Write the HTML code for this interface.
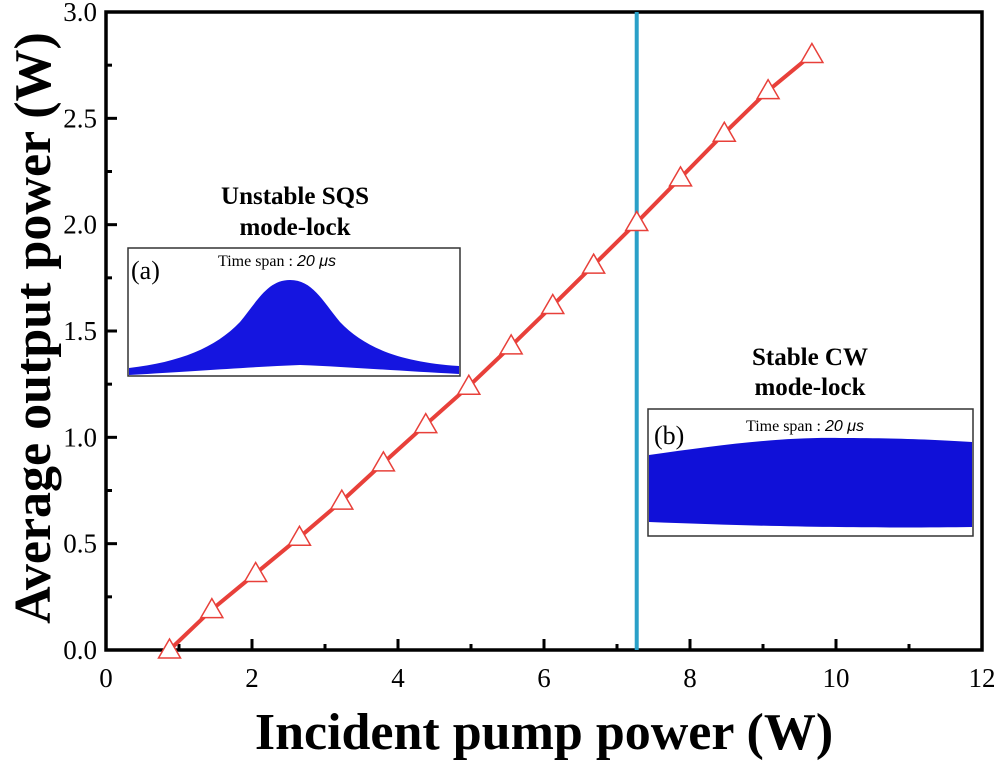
<!DOCTYPE html>
<html><head><meta charset="utf-8"><style>
body{margin:0;background:#fff;}
svg{display:block;font-family:"Liberation Serif",serif;}
</style></head><body>
<svg id="chart" width="996" height="761" viewBox="0 0 996 761">
<rect x="0" y="0" width="996" height="761" fill="#fff"/>
<g id="insets">
  <g>
    <text x="295" y="204" font-size="25" font-weight="bold" text-anchor="middle">Unstable SQS</text>
    <text x="295" y="235" font-size="25" font-weight="bold" text-anchor="middle">mode-lock</text>
    <rect x="128" y="248" width="332" height="128" fill="#fff" stroke="#333" stroke-width="1.5"/>
    <path d="M129,368 C180,362 215,348 240,322 C258,300 268,280 290,280 C312,280 322,300 340,322 C365,348 400,362 459,366 L459,374 C400,371 350,367 300,365 C250,367 200,371 129,375 Z" fill="#1515e0"/>
    <text x="131" y="279" font-size="26">(a)</text>
    <text x="218" y="266" font-size="16">Time span : <tspan font-family="Liberation Sans,sans-serif" font-style="italic">20 μs</tspan></text>
  </g>
  <g>
    <text x="810" y="365" font-size="25" font-weight="bold" text-anchor="middle">Stable CW</text>
    <text x="810" y="395" font-size="25" font-weight="bold" text-anchor="middle">mode-lock</text>
    <rect x="648" y="409" width="325" height="127" fill="#fff" stroke="#333" stroke-width="1.5"/>
    <path d="M649,455 C720,445 780,437 840,438 C900,438 940,440 972,442 L972,527 C900,528 800,528 649,522 Z" fill="#1010d8"/>
    <text x="654" y="444" font-size="26">(b)</text>
    <text x="746" y="431" font-size="16">Time span : <tspan font-family="Liberation Sans,sans-serif" font-style="italic">20 μs</tspan></text>
  </g>
</g>
<g id="axes"></g>
<g id="marks"></g>
</svg>
<script>
const xTicks=[0,2,4,6,8,10,12];
const yTicks=[0.0,0.5,1.0,1.5,2.0,2.5,3.0];
const pumpPower=[0.87,1.45,2.05,2.65,3.23,3.80,4.38,4.97,5.55,6.12,6.68,7.27,7.87,8.47,9.07,9.67];
const outputPower=[0.00,0.19,0.36,0.53,0.70,0.88,1.06,1.24,1.43,1.62,1.81,2.01,2.22,2.43,2.63,2.80];
const boundaryX=[7.27];
const L=106,R=982,T=12,B=650;
const sx=v=>L+(v-0)/(12-0)*(R-L);
const sy=v=>B-(v-0)/(3-0)*(B-T);
const NS="http://www.w3.org/2000/svg";
function mk(tag,attrs,parent){const e=document.createElementNS(NS,tag);for(const k in attrs)e.setAttribute(k,attrs[k]);parent.appendChild(e);return e;}
const axes=document.getElementById('axes'),marks=document.getElementById('marks');
const frame=mk('rect',{x:L,y:T,width:R-L,height:B-T,fill:'none',stroke:'#000','stroke-width':3.5},axes);


xTicks.forEach((v,i)=>{
  const t=mk('line',{x1:sx(v),x2:sx(v),y1:B,y2:B-11,stroke:'#000','stroke-width':3},axes);
  
  
  if(i<xTicks.length-1){mk('line',{x1:sx(v+1),x2:sx(v+1),y1:B,y2:B-6,stroke:'#000','stroke-width':3},axes);}
  const lb=mk('text',{x:sx(v),y:B+37,'font-size':27,'text-anchor':'middle',fill:'#000'},axes);
  lb.textContent=v;
  
  
});
yTicks.forEach((v,i)=>{
  const t=mk('line',{x1:L,x2:L+11,y1:sy(v),y2:sy(v),stroke:'#000','stroke-width':3},axes);
  
  
  if(i<yTicks.length-1){mk('line',{x1:L,x2:L+6,y1:sy(v+0.25),y2:sy(v+0.25),stroke:'#000','stroke-width':3},axes);}
  const lb=mk('text',{x:L-9,y:sy(v)+9,'font-size':27,'text-anchor':'end',fill:'#000'},axes);
  lb.textContent=v.toFixed(1);
  
  
});
const xt=mk('text',{x:544,y:749,'font-size':52,'font-weight':'bold','text-anchor':'middle'},axes);
xt.textContent='Incident pump power (W)';


const yt=mk('text',{x:0,y:0,'font-size':52,'font-weight':'bold','text-anchor':'middle',transform:'translate(50,328) rotate(-90)'},axes);
yt.textContent='Average output power (W)';


boundaryX.forEach(v=>{
  const l=mk('line',{x1:sx(v),x2:sx(v),y1:T,y2:B,stroke:'#2aa0c8','stroke-width':4},marks);
  
  
});
const pts=pumpPower.map((x,i)=>sx(x)+','+sy(outputPower[i])).join(' ');
const pl=mk('polyline',{points:pts,fill:'none',stroke:'#e8403a','stroke-width':4},marks);


pumpPower.forEach((x,i)=>{
  const cx=sx(x),cy=sy(outputPower[i]);
  const p=mk('polygon',{points:`${cx},${cy-11} ${cx-11},${cy+8} ${cx+11},${cy+8}`,fill:'#fff',stroke:'#e8403a','stroke-width':1.5},marks);
  
  
});
</script>
</body></html>
